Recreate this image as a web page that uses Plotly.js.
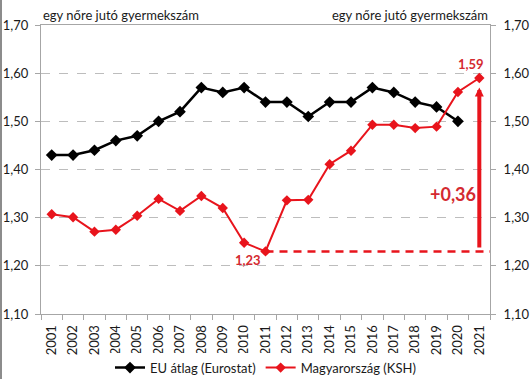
<!DOCTYPE html>
<html>
<head>
<meta charset="utf-8">
<script src="https://cdn.plot.ly/plotly-3.0.1.min.js"></script>
<style>html,body{margin:0;padding:0;background:#fff;}#chart{width:531px;height:379px;}</style>
</head>
<body>
<div id="chart"></div>
<script>
const years = ['2001','2002','2003','2004','2005','2006','2007','2008','2009','2010','2011','2012','2013','2014','2015','2016','2017','2018','2019','2020','2021'];
const euYears = years.slice(0, 20);
const euValues = [1.43,1.43,1.44,1.46,1.47,1.50,1.52,1.57,1.56,1.57,1.54,1.54,1.51,1.54,1.54,1.57,1.56,1.54,1.53,1.50];
const huValues = [1.307,1.301,1.271,1.275,1.304,1.339,1.314,1.345,1.320,1.248,1.230,1.336,1.337,1.411,1.439,1.493,1.493,1.486,1.489,1.561,1.590];
const seriesNames = ['EU átlag (Eurostat)', 'Magyarország (KSH)'];
const axisTitle = 'egy nőre jutó gyermekszám';
const startLabel = '1,23';
const endLabel = '1,59';
const diffLabel = '+0,36';
const baseValue = 1.23;
const arrowTop = 1.57;
const arrowBottom = 1.235;

const FONT = 'Lato, "Open Sans", sans-serif';
const RED = '#e8141c';
const LABEL_RED = '#d42a30';
const AXIS = '#a6a6a6';
const TXT = '#1a1a1a';

const iStart = years.indexOf('2011');
const iEnd = years.indexOf('2021');

const traces = [
  {x: euYears, y: euValues, name: seriesNames[0], type: 'scatter', mode: 'lines+markers',
   line: {color: '#000000', width: 2.5}, marker: {symbol: 'diamond', size: 9, color: '#000000'}},
  {x: years, y: huValues, name: seriesNames[1], type: 'scatter', mode: 'lines+markers',
   line: {color: RED, width: 2}, marker: {symbol: 'diamond', size: 8, color: RED}},
  {x: years, y: huValues, yaxis: 'y2', type: 'scatter', mode: 'none', showlegend: false, hoverinfo: 'skip'}
];

const layout = {
  width: 531, height: 379,
  margin: {l: 41, r: 41, t: 25, b: 65},
  paper_bgcolor: '#ffffff', plot_bgcolor: '#ffffff',
  separators: ', ',
  font: {family: FONT, size: 12, color: TXT},
  showlegend: true,
  legend: {orientation: 'h', xref: 'container', yref: 'container', x: 0.5, xanchor: 'center',
           y: 0.03, yanchor: 'middle', font: {family: FONT, size: 13, color: TXT}, tracegroupgap: 0},
  xaxis: {type: 'category', range: [-0.5, 20.5], tickangle: -90, ticks: 'outside', ticklen: 5,
          tickson: 'boundaries', tickcolor: AXIS, showline: true, linecolor: AXIS, linewidth: 1,
          mirror: true, showgrid: false, zeroline: false, ticklabelstandoff: 5,
          tickfont: {family: FONT, size: 13, color: TXT}},
  yaxis: {range: [1.1, 1.7], dtick: 0.1, tickformat: '.2f', ticks: 'outside', ticklen: 5,
          tickcolor: AXIS, showline: true, linecolor: AXIS, linewidth: 1, mirror: true,
          showgrid: true, gridcolor: '#bdbdbd', griddash: 'dash', gridwidth: 1, zeroline: false,
          ticklabelstandoff: 4, tickfont: {family: FONT, size: 13, color: TXT}},
  yaxis2: {range: [1.1, 1.7], dtick: 0.1, tickformat: '.2f', overlaying: 'y', side: 'right',
           ticks: 'outside', ticklen: 5, tickcolor: AXIS, showline: false, showgrid: false,
           zeroline: false, ticklabelstandoff: 5, tickfont: {family: FONT, size: 13, color: TXT}},
  shapes: [
    {type: 'line', xref: 'x', yref: 'y', x0: iStart, x1: 20.5, y0: baseValue, y1: baseValue,
     line: {color: RED, width: 2.5, dash: '8px,6px'}},
    {type: 'line', xref: 'paper', yref: 'paper', x0: -40/449, x1: -40/449, y0: -65/289, y1: 1 + 25/289,
     line: {color: '#8c8c8c', width: 2}}
  ],
  annotations: [
    {xref: 'paper', yref: 'paper', x: 0, y: 1 + 10/289, xanchor: 'left', yanchor: 'middle',
     text: axisTitle, showarrow: false, font: {family: FONT, size: 13, color: TXT}},
    {xref: 'paper', yref: 'paper', x: 1, y: 1 + 10/289, xanchor: 'right', yanchor: 'middle',
     text: axisTitle, showarrow: false, font: {family: FONT, size: 13, color: TXT}},
    {xref: 'x', yref: 'y', x: iEnd, y: huValues[iEnd], text: '<b>' + endLabel + '</b>', showarrow: false,
     xshift: -8, yshift: 14, font: {family: FONT, size: 13, color: LABEL_RED}},
    {xref: 'x', yref: 'y', x: iStart, y: huValues[iStart], text: '<b>' + startLabel + '</b>', showarrow: false,
     xshift: -18, yshift: -9, font: {family: FONT, size: 13, color: LABEL_RED}},
    {xref: 'x', yref: 'y', axref: 'x', ayref: 'y', x: iEnd, y: arrowTop, ax: iEnd, ay: arrowBottom,
     text: '', showarrow: true, arrowhead: 2, arrowsize: 0.45, arrowwidth: 4, arrowcolor: RED, standoff: 0, startstandoff: 0},
    {xref: 'x', yref: 'y', x: iEnd - 1, y: 1.35, text: '<b>' + diffLabel + '</b>', showarrow: false, xshift: -5,
     font: {family: FONT, size: 18, color: LABEL_RED}}
  ]
};

Plotly.newPlot('chart', traces, layout, {staticPlot: true, displayModeBar: false});
</script>
</body>
</html>
